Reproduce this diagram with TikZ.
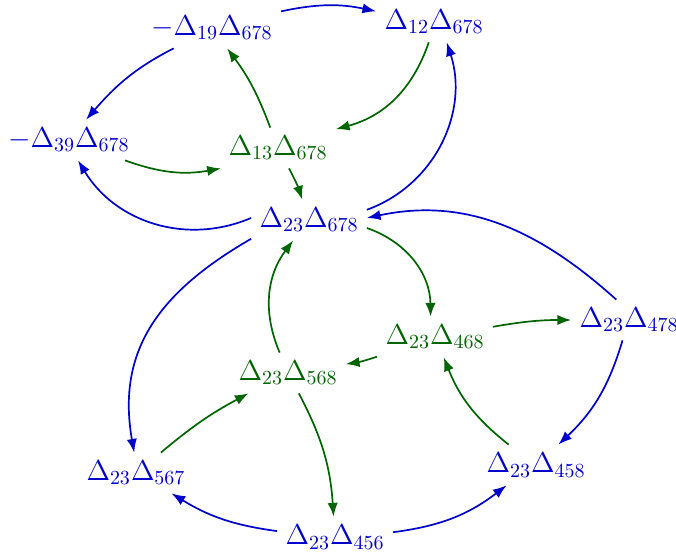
\documentclass[tikz,border=0pt]{standalone}
\usepackage{amsmath,amssymb}
\usepackage{tikz}
\usetikzlibrary{arrows.meta}
\usepackage[dvipsnames]{xcolor}
\definecolor{bl}{RGB}{0,0,205}
\definecolor{gr}{RGB}{0,100,0}

\begin{document}
\begin{tikzpicture}[>=Latex,x=0.5pt,y=-0.5pt,
  mut/.style={font=\Large,inner sep=4pt},
  bn/.style={mut,text=bl}, gn/.style={mut,text=gr},
  ba/.style={->,bl,line width=0.85pt}, ga/.style={->,gr,line width=0.85pt}]
\useasboundingbox (0,0) rectangle (676,556);
\node[bn] (m19) at (212,28) {$-\Delta_{19}\Delta_{678}$};
\node[bn] (d12) at (434,22) {$\Delta_{12}\Delta_{678}$};
\node[bn] (m39) at (69,140) {$-\Delta_{39}\Delta_{678}$};
\node[gn] (d13) at (278,148) {$\Delta_{13}\Delta_{678}$};
\node[bn] (c678) at (309,220) {$\Delta_{23}\Delta_{678}$};
\node[gn] (c468) at (435,337) {$\Delta_{23}\Delta_{468}$};
\node[bn] (c478) at (629,320) {$\Delta_{23}\Delta_{478}$};
\node[gn] (c568) at (288,373) {$\Delta_{23}\Delta_{568}$};
\node[bn] (c567) at (136,473) {$\Delta_{23}\Delta_{567}$};
\node[bn] (c458) at (536,465) {$\Delta_{23}\Delta_{458}$};
\node[bn] (c456) at (335,537) {$\Delta_{23}\Delta_{456}$};
% blue arrows
\draw[ba] (m19) to[bend left=12] (d12);
\draw[ba] (m19.-152) to[out=207,in=49] (m39.50);
\draw[ba] (c678.10) to[out=20,in=-72] (d12.-58);
\draw[ba] (c678.178) to[out=203,in=-59] (m39.-66);
\draw[ba] (c678.198) to[out=210,in=100,looseness=1.1] (c567.95);
\draw[ba] (c478.122) to[out=138,in=12] (c678.2);
\draw[ba] (c478) to[bend left=15] (c458);
\draw[ba] (c456) to[bend left=12] (c567);
\draw[ba] (c456) to[bend right=15] (c458);
% green arrows
\draw[ga] (d12) to[bend left=28] (d13.18);
\draw[ga] (d13) to[bend right=8] (m19);
\draw[ga] (m39.-20) to[bend right=15] (d13);
\draw[ga] (d13) to[bend left=5] (c678);
\draw[ga] (c678) to[bend left=35] (c468);
\draw[ga] (c468) to[bend left=5] (c478);
\draw[ga] (c468) to[bend left=5] (c568);
\draw[ga] (c568) to[bend left=30] (c678);
\draw[ga] (c568) to[bend left=12] (c456);
\draw[ga] (c567) to[bend left=6] (c568);
\draw[ga] (c458) to[bend left=15] (c468);
\end{tikzpicture}
\end{document}
